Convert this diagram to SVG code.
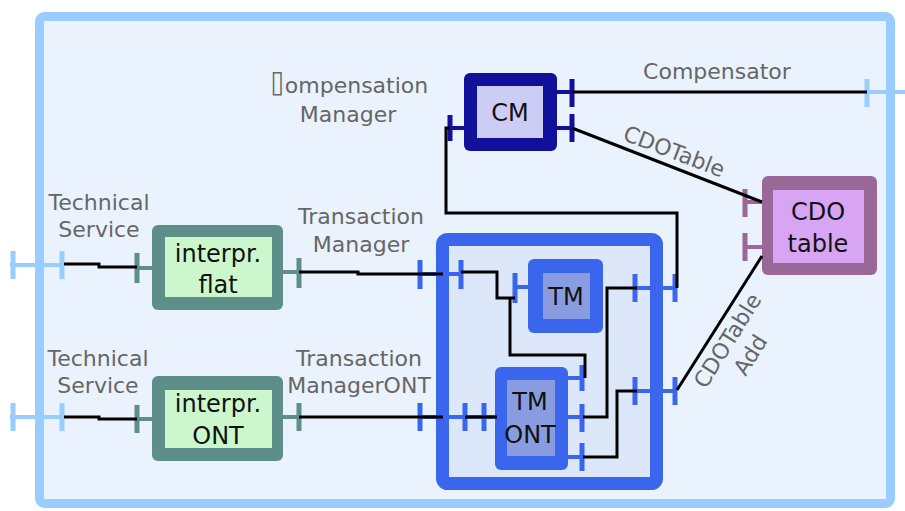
<svg xmlns="http://www.w3.org/2000/svg" width="905" height="511" viewBox="0 0 905 511">
<style>
.lbl{font-family:"DejaVu Sans","Liberation Sans",sans-serif;font-size:22px;fill:#666;text-anchor:middle}
.nt{font-family:"DejaVu Sans","Liberation Sans",sans-serif;font-size:24px;fill:#111;text-anchor:middle}
.tofu{font-family:"DejaVu Sans Mono","DejaVu Sans",monospace;font-size:25px}
.conn{fill:none;stroke:#000;stroke-width:3}
.pf{stroke:#99ccff;fill:none}
.pb{stroke:#3a66ee;fill:none}
.pt{stroke:#5e8e8a;fill:none}
.pn{stroke:#10109a;fill:none}
.pm{stroke:#9a6896;fill:none}
.bar{stroke-width:5}
.stub{stroke-width:4}
</style>
<rect width="905" height="511" fill="#ffffff"/>
<g id="frame">
<rect x="39.5" y="16.5" width="851" height="487" rx="5" fill="#eaf3fd" stroke="#99ccff" stroke-width="9"/>
<path class="pf stub" d="M10,265H62M10,417H62M867,92H905"/>
<path class="pf bar" d="M13,251V279M62,251V279M13,403V431M62,403V431M867,79V107"/>
</g>
<g id="labels">
<text class="lbl" x="99" y="210">Technical</text>
<text class="lbl" x="99" y="237">Service</text>
<text class="lbl" x="98" y="366">Technical</text>
<text class="lbl" x="98" y="393">Service</text>
<text class="lbl" x="361" y="224">Transaction</text>
<text class="lbl" x="361" y="252">Manager</text>
<text class="lbl" x="359" y="366">Transaction</text>
<text class="lbl" x="359" y="393">ManagerONT</text>
<text class="lbl" x="349" y="93"><tspan class="tofu">⌷</tspan>ompensation</text>
<text class="lbl" x="348" y="122">Manager</text>
<text class="lbl" x="717" y="79">Compensator</text>
<text class="lbl" transform="translate(674,152) rotate(21)" x="0" y="7">CDOTable</text>
<g transform="translate(728,341) rotate(-58)">
<text class="lbl" x="0" y="7">CDOTable</text>
<text class="lbl" x="0" y="34">Add</text>
</g>
</g>
<g id="tm-composite">
<rect x="442.5" y="239.5" width="214" height="244" rx="5" fill="#dce8fa" stroke="#3a66ee" stroke-width="13"/>
<path class="pb stub" d="M420,274H461M420,417H495M635,288H675M635,391H675"/>
<path class="pb bar" d="M420,260V289M461,260V289M420,403V431M465,403V431M635,274V302M675,274V302M635,377V405M675,377V405"/>
</g>
<g id="interpr-flat">
<rect x="152" y="225" width="131" height="85" rx="6" fill="#5e8e8a"/>
<rect x="165" y="237" width="107" height="60" fill="#ccf7cc"/>
<path class="pt stub" d="M137,268H152M283,272H299"/>
<path class="pt bar" d="M137,253V283M299,258V288"/>
<text class="nt" x="218" y="262">interpr.</text>
<text class="nt" x="218" y="293">flat</text>
</g>
<g id="interpr-ont">
<rect x="152" y="376" width="131" height="85" rx="6" fill="#5e8e8a"/>
<rect x="165" y="390" width="107" height="58" fill="#ccf7cc"/>
<path class="pt stub" d="M137,419H152M283,417H299"/>
<path class="pt bar" d="M137,405V433M299,403V431"/>
<text class="nt" x="218" y="412">interpr.</text>
<text class="nt" x="218" y="444">ONT</text>
</g>
<g id="tm">
<rect x="528" y="259" width="75" height="74" rx="6" fill="#3a66ee"/>
<rect x="543" y="273" width="47" height="46" fill="#8a9ce0"/>
<path class="pb stub" d="M515,287H528"/>
<path class="pb bar" d="M515,273V303"/>
<text class="nt" x="566" y="305">TM</text>
</g>
<g id="tm-ont">
<rect x="495" y="367" width="73" height="103" rx="6" fill="#3a66ee"/>
<rect x="507" y="380" width="48" height="76" fill="#8a9ce0"/>
<path class="pb stub" d="M568,378H582M568,417H582M568,457H582"/>
<path class="pb bar" d="M484,403V431M582,365V391M582,404V432M582,443V471"/>
<text class="nt" x="530" y="410">TM</text>
<text class="nt" x="530" y="443">ONT</text>
</g>
<g id="cm">
<rect x="464" y="73" width="93" height="78" rx="6" fill="#10109a"/>
<rect x="477" y="86" width="66" height="52" fill="#ccccf5"/>
<path class="pn stub" d="M450,128H464M557,92H572M557,128H572"/>
<path class="pn bar" d="M450,115V141M572,79V107M572,114V142"/>
<text class="nt" x="510" y="121">CM</text>
</g>
<g id="cdo-table">
<rect x="762" y="176" width="115" height="99" rx="6" fill="#9a6896"/>
<rect x="773" y="190" width="91" height="73" fill="#d8a4f4"/>
<path class="pm stub" d="M745,202H762M745,247H762"/>
<path class="pm bar" d="M745,189V217M745,233V261"/>
<text class="nt" x="818" y="220">CDO</text>
<text class="nt" x="818" y="252">table</text>
</g>
<g id="connectors">
<path class="conn" d="M64,264H99V267H137"/>
<path class="conn" d="M64,417H99V419H137"/>
<path class="conn" d="M299,272H358V274H443"/>
<path class="conn" d="M461,272H497V298H515"/>
<path class="conn" d="M510,298V355H585V378"/>
<path class="conn" d="M299,417H443"/>
<path class="conn" d="M465,417H497"/>
<path class="conn" d="M583,417H607V288H637"/>
<path class="conn" d="M583,457H617V391H637"/>
<path class="conn" d="M677,288V213H446V128H450"/>
<path class="conn" d="M572,92H867"/>
<path class="conn" d="M572,128L762,202"/>
<path class="conn" d="M677,390L762,256"/>
</g>
</svg>
